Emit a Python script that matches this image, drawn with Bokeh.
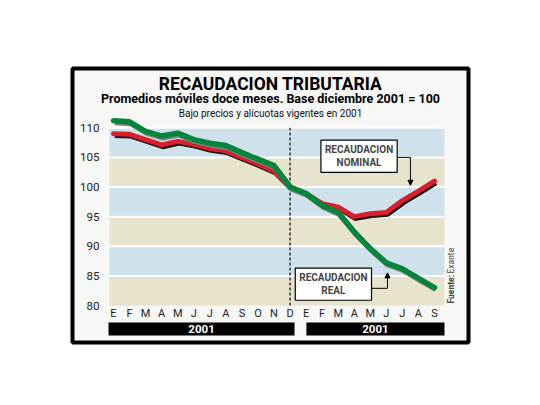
from bokeh.plotting import figure
from bokeh.models import (Label, BoxAnnotation, FixedTicker, Range1d, Arrow, NormalHead, LinearAxis)
from bokeh.embed import file_html
from bokeh.resources import INLINE
import math

# ---------------- data ----------------
months = ["E", "F", "M", "A", "M", "J", "J", "A", "S", "O", "N", "D",
          "E", "F", "M", "A", "M", "J", "J", "A", "S"]
real = [111.2, 111.0, 109.4, 108.6, 109.1, 108.0, 107.4, 107.0, 105.8, 104.7, 103.6, 100.0,
        98.9, 96.9, 95.7, 92.4, 89.6, 87.2, 86.2, 84.6, 83.0]
nominal = [109.0, 108.9, 108.0, 107.1, 107.7, 107.2, 106.5, 106.1, 105.0, 103.9, 102.7, 100.0,
           98.9, 97.2, 96.6, 95.0, 95.5, 95.7, 97.7, 99.3, 101.0]
y_ticks = [80, 85, 90, 95, 100, 105, 110]
year_labels = ["2001", "2001"]
title = "RECAUDACION TRIBUTARIA"
subtitle = "Promedios móviles doce meses. Base diciembre 2001 = 100"
note = "Bajo precios y alícuotas vigentes en 2001"

x = list(range(len(months)))
W, H = 540, 405
BLUE = "#cfe1eb"
BEIGE = "#e8e3cc"
PANEL = "#f7f7f5"
GREEN = "#05843c"
RED = "#d91f2f"

# plot area geometry (pixels) -> ranges so that the frame covers the whole canvas
X0_PX, DX_PX = 113.0, 16.05        # pixel of first month, pixels per month
Y80_PX, DY_PX = 305.0, 5.925       # pixel of value 80, pixels per unit
x_lo, x_hi = -0.25, 20.62          # plot area in data units
x_range = Range1d(-X0_PX / DX_PX, (W - X0_PX) / DX_PX)
y_range = Range1d(y_ticks[0] - (H - Y80_PX) / DY_PX, y_ticks[0] + Y80_PX / DY_PX)

p = figure(width=W, height=H, output_backend="svg", toolbar_location=None,
           x_range=x_range, y_range=y_range,
           x_axis_location=None, y_axis_location=None,
           min_border=0, min_border_left=0, min_border_right=0,
           min_border_top=0, min_border_bottom=0)
p.border_fill_color = "white"
p.background_fill_color = "white"
p.outline_line_color = None
p.xgrid.visible = False
p.ygrid.visible = False

# outer panel
p.add_layout(BoxAnnotation(left=72, right=468, top=68, bottom=342,
                           left_units="canvas", right_units="canvas",
                           top_units="canvas", bottom_units="canvas",
                           fill_color=PANEL, fill_alpha=1, line_color="black",
                           line_alpha=1, line_width=4, level="underlay"))

# bands
n = len(y_ticks) - 1
p.quad(left=[x_lo] * n, right=[x_hi] * n, bottom=y_ticks[:-1], top=y_ticks[1:],
       fill_color=[BEIGE if i % 2 == 0 else BLUE for i in range(n)], line_color=None)
p.segment(x0=[x_lo] * n, y0=y_ticks[1:], x1=[x_hi] * n, y1=y_ticks[1:],
          line_color="white", line_width=2)

# dashed separator at December
p.segment(x0=[11], y0=[y_ticks[0]], x1=[11], y1=[y_ticks[-1]],
          line_color="#333333", line_width=1.5, line_dash="3 2")

# lines with shadows
p.line([v + 0.08 for v in x], [v - 0.3 for v in nominal], line_color="#111111", line_width=5, line_join="round")
p.line(x, nominal, line_color=RED, line_width=5, line_join="round", line_cap="round")
p.line([v + 0.08 for v in x], [v - 0.3 for v in real], line_color="#808080", line_width=5.5, line_join="round")
p.line(x, real, line_color=GREEN, line_width=5.5, line_join="round", line_cap="round")

# axes, fixed inside the frame
yax = LinearAxis(fixed_location=x_lo, ticker=FixedTicker(ticks=y_ticks))
yax.axis_line_color = None
yax.major_tick_line_color = None
yax.minor_tick_line_color = None
yax.major_label_standoff = 4
yax.major_label_text_font = "Roboto"
yax.major_label_text_font_size = "11.5px"
yax.major_label_text_color = "#222222"
p.add_layout(yax, "left")

xax = LinearAxis(fixed_location=y_ticks[0], ticker=FixedTicker(ticks=x))
xax.major_label_overrides = {i: m for i, m in enumerate(months)}
xax.axis_line_color = None
xax.major_tick_line_color = None
xax.minor_tick_line_color = None
xax.major_label_standoff = -5
xax.major_label_text_font = "Roboto"
xax.major_label_text_font_size = "11px"
xax.major_label_text_color = "#222222"
p.add_layout(xax, "below")

# year bars
bars = [(-0.31, 11.28), (12.02, x_hi)]
for (l, r), lab in zip(bars, year_labels):
    p.add_layout(BoxAnnotation(left=l, right=r, top=322, bottom=335,
                               top_units="canvas", bottom_units="canvas",
                               fill_color="black", fill_alpha=1, line_color=None))
    p.add_layout(Label(x=(l + r) / 2, y=328.5, y_units="canvas", text=lab,
                       text_align="center", text_baseline="middle",
                       text_font="Roboto", text_font_style="bold",
                       text_font_size="11.5px", text_color="white"))

# titles
p.add_layout(Label(x=270, y=83, x_units="canvas", y_units="canvas", text=title,
                   text_align="center", text_baseline="alphabetic",
                   text_font="Roboto", text_font_style="bold", text_font_size="17.5px",
                   text_color="black"))
p.add_layout(Label(x=270, y=98, x_units="canvas", y_units="canvas", text=subtitle,
                   text_align="center", text_baseline="alphabetic",
                   text_font="Roboto", text_font_style="bold", text_font_size="12.5px",
                   text_color="black"))
p.add_layout(Label(x=270, y=112.5, x_units="canvas", y_units="canvas", text=note,
                   text_align="center", text_baseline="alphabetic",
                   text_font="Roboto", text_font_size="10px", text_color="#111111"))

# source (rotated, reading upward)
p.add_layout(Label(x=450, y=303, x_units="canvas", y_units="canvas", text="Fuente:",
                   angle=math.pi / 2, text_align="left", text_baseline="middle",
                   text_font="Roboto", text_font_style="bold", text_font_size="8.5px"))
p.add_layout(Label(x=450, y=273, x_units="canvas", y_units="canvas", text="Exante",
                   angle=math.pi / 2, text_align="left", text_baseline="middle",
                   text_font="Roboto", text_font_size="8.5px"))

# callouts
p.add_layout(Label(x=15.3, y=105.2, text="RECAUDACION\nNOMINAL",
                   text_align="center", text_baseline="middle",
                   text_font="Roboto", text_font_style="bold", text_font_size="10px",
                   background_fill_color="white", border_line_color="black",
                   border_line_width=1.2, padding=4))
p.segment(x0=[17.57], y0=[105.0], x1=[18.5], y1=[105.0], line_color="black", line_width=1)
p.add_layout(Arrow(end=NormalHead(size=5, fill_color="black", line_color="black"),
                   x_start=18.5, y_start=105.0, x_end=18.5, y_end=100.3,
                   line_color="black", line_width=1))

p.add_layout(Label(x=13.7, y=83.6, text="RECAUDACION\nREAL",
                   text_align="center", text_baseline="middle",
                   text_font="Roboto", text_font_style="bold", text_font_size="10px",
                   background_fill_color="white", border_line_color="black",
                   border_line_width=1.2, padding=4))
p.segment(x0=[15.95], y0=[82.9], x1=[17.07], y1=[82.9], line_color="black", line_width=1)
p.add_layout(Arrow(end=NormalHead(size=5, fill_color="black", line_color="black"),
                   x_start=17.07, y_start=82.9, x_end=17.07, y_end=85.5,
                   line_color="black", line_width=1))

open("out.html", "w").write(file_html(p, INLINE))
